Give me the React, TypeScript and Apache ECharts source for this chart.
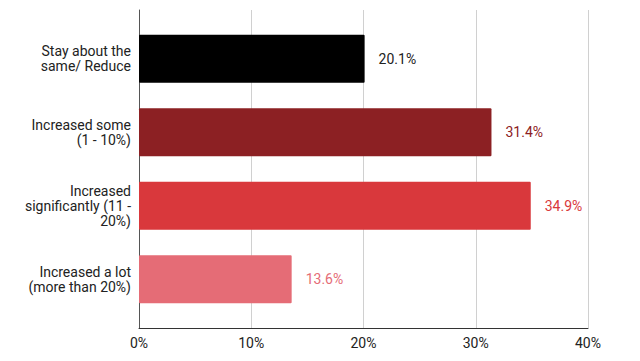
import React, { useEffect, useRef } from "react";
import * as echarts from "echarts";

const categories = [
  "Stay about the\nsame/ Reduce",
  "Increased some\n(1 - 10%)",
  "Increased\nsignificantly (11 -\n20%)",
  "Increased a lot\n(more than 20%)",
];
const values = [20.1, 31.4, 34.9, 13.6];
const barColors = ["#000000", "#8c2023", "#d9383c", "#e56c76"];
const labelColors = ["#222222", "#8c2023", "#d9383c", "#e56c76"];
const xTicks = [0, 10, 20, 30, 40];

export default function App() {
  const ref = useRef<HTMLDivElement>(null);
  useEffect(() => {
    if (!ref.current) return;
    const chart = echarts.init(ref.current, undefined, { renderer: "svg" });
    const font = "Roboto, 'Noto Sans', sans-serif";
    chart.setOption({
      animation: false,
      backgroundColor: "#ffffff",
      textStyle: { fontFamily: font },
      grid: [
        { left: 139, right: 52, top: 22, bottom: 45 },
        { left: 139, right: 52, top: 10, bottom: 33 },
      ],
      xAxis: [
        {
          gridIndex: 0,
          type: "value",
          min: xTicks[0],
          max: xTicks[xTicks.length - 1],
          interval: 10,
          show: false,
        },
        {
          gridIndex: 1,
          type: "value",
          min: xTicks[0],
          max: xTicks[xTicks.length - 1],
          interval: 10,
          axisLine: { show: true, lineStyle: { color: "#333333", width: 1 } },
          axisTick: { show: false },
          splitLine: { show: true, lineStyle: { color: "#d0d0d0", width: 1 } },
          axisLabel: {
            formatter: "{value}%",
            color: "#222222",
            fontSize: 14,
            fontFamily: font,
            margin: 8,
          },
        },
      ],
      yAxis: [
        {
          gridIndex: 0,
          type: "category",
          data: categories,
          inverse: true,
          axisLine: { show: false },
          axisTick: { show: false },
          splitLine: { show: false },
          axisLabel: {
            color: "#222222",
            fontSize: 14,
            lineHeight: 15,
            fontFamily: font,
            margin: 8,
            align: "right",
          },
        },
        {
          gridIndex: 1,
          type: "value",
          min: 0,
          max: 1,
          axisLine: { show: true, lineStyle: { color: "#555555", width: 1 } },
          axisTick: { show: false },
          axisLabel: { show: false },
          splitLine: { show: false },
        },
      ],
      series: [
        {
          type: "bar",
          xAxisIndex: 0,
          yAxisIndex: 0,
          barCategoryGap: "35%",
          data: values.map((v, i) => ({
            value: v,
            itemStyle: { color: barColors[i], borderRadius: 1 },
            label: { color: labelColors[i] },
          })),
          label: {
            show: true,
            position: "right",
            distance: 14,
            fontSize: 14,
            fontFamily: font,
            formatter: (p: any) => `${p.value}%`,
          },
        },
      ],
    });
    return () => chart.dispose();
  }, []);
  return (
    <div
      ref={ref}
      style={{ position: "fixed", left: 0, top: 0, width: 640, height: 361 }}
    />
  );
}
